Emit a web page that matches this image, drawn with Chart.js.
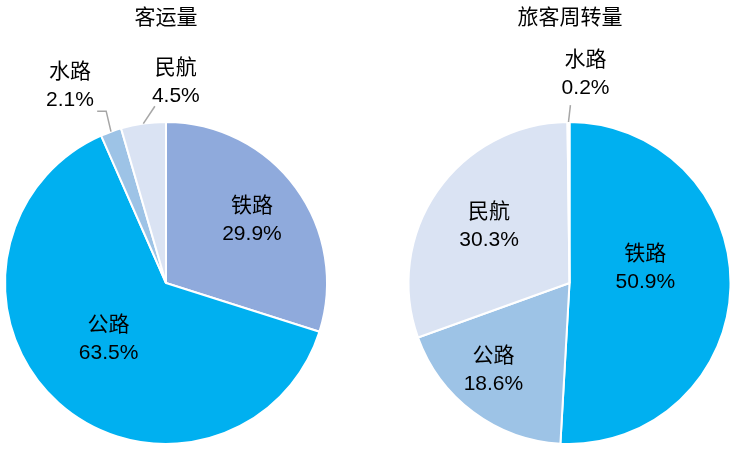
<!DOCTYPE html>
<html>
<head>
<meta charset="utf-8">
<script src="https://cdn.jsdelivr.net/npm/chart.js@4"></script>
<style>
  body { margin: 0; background: #fff; }
  #wrap { position: relative; width: 735px; height: 451px; }
  canvas { position: absolute; top: 0; }
</style>
</head>
<body>
<div id="wrap">
  <canvas id="left" width="367" height="451" style="left:0"></canvas>
  <canvas id="right" width="368" height="451" style="left:367px"></canvas>
</div>
<script>
// 客运量
const leftTitle = '客运量';
const leftLabels = ['铁路', '公路', '水路', '民航'];
const leftValues = [29.9, 63.5, 2.1, 4.5];

// 旅客周转量
const rightTitle = '旅客周转量';
const rightLabels = ['铁路', '公路', '民航', '水路'];
const rightValues = [50.9, 18.6, 30.3, 0.2];

const FONT = '"Liberation Sans", Arial, "Noto Sans CJK SC", sans-serif';

// label placement, polar relative to the pie (fraction of radius, degrees clockwise from top)
const leftPlace = [
    { r: 0.66, a: 54 },
    { r: 0.50, a: 225.5 },
    { r: 1.36, a: 334, leader: [[1.0, null], [1.13, 340.8], [-9, 0]] },
    { r: 1.25, a: 2.8, leader: [[1.0, null], [1.10, 356.4]] },
];
const rightPlace = [
    { r: 0.48, a: 78.8 },
    { r: 0.72, a: 221 },
    { r: 0.61, a: 305 },
    { r: 1.30, a: 4.4, leader: [[1.0, null], [1.105, 0.3]] },
];

function polar(arc, r, deg) {
    const t = (deg - 90) * Math.PI / 180;
    return [arc.x + Math.cos(t) * r * arc.outerRadius, arc.y + Math.sin(t) * r * arc.outerRadius];
}

const labelPlugin = {
    id: 'pieLabels',
    afterDraw(chart, args, opts) {
        const ctx = chart.ctx;
        const meta = chart.getDatasetMeta(0);
        const labels = chart.data.labels;
        const values = chart.data.datasets[0].data;
        ctx.save();
        ctx.fillStyle = '#000';
        ctx.textAlign = 'center';
        ctx.textBaseline = 'middle';
        ctx.font = '21px ' + FONT;
        ctx.fillText(opts.title, opts.titleX, 18);

        meta.data.forEach((arc, i) => {
            const p = opts.place[i];
            const mid = ((arc.startAngle + arc.endAngle) / 2) * 180 / Math.PI + 90;
            if (p.leader) {
                ctx.strokeStyle = '#a6a6a6';
                ctx.lineWidth = 1.5;
                ctx.beginPath();
                let last = null;
                p.leader.forEach((seg, k) => {
                    let pt;
                    if (seg[1] === null) pt = polar(arc, seg[0], mid);
                    else if (k > 1) pt = [last[0] + seg[0], last[1] + seg[1]];
                    else pt = polar(arc, seg[0], seg[1]);
                    if (k === 0) ctx.moveTo(pt[0], pt[1]); else ctx.lineTo(pt[0], pt[1]);
                    last = pt;
                });
                ctx.stroke();
            }
            const [x, y] = polar(arc, p.r, p.a);
            ctx.fillStyle = '#000';
            ctx.font = '21px ' + FONT;
            ctx.fillText(labels[i], x, y - 14);
            ctx.fillText(values[i].toFixed(1) + '%', x, y + 14);
        });
        ctx.restore();
    }
};

function makePie(id, labels, values, colors, padding, pluginOpts) {
    return new Chart(document.getElementById(id), {
        type: 'pie',
        data: {
            labels: labels,
            datasets: [{
                data: values,
                backgroundColor: colors,
                borderColor: '#ffffff',
                borderWidth: 2,
            }],
        },
        options: {
            responsive: false,
            animation: false,
            layout: { padding: padding },
            plugins: {
                legend: { display: false },
                tooltip: { enabled: false },
                pieLabels: pluginOpts,
            },
        },
        plugins: [labelPlugin],
    });
}

makePie('left', leftLabels, leftValues,
    ['#8faadc', '#00b0f0', '#9dc3e6', '#dae3f3'],
    { left: 4, right: 39, top: 121, bottom: 6 },
    { title: leftTitle, titleX: 166, place: leftPlace });

makePie('right', rightLabels, rightValues,
    ['#00b0f0', '#9dc3e6', '#dae3f3', '#8faadc'],
    { left: 40, right: 3, top: 121, bottom: 6 },
    { title: rightTitle, titleX: 203, place: rightPlace });
</script>
</body>
</html>
